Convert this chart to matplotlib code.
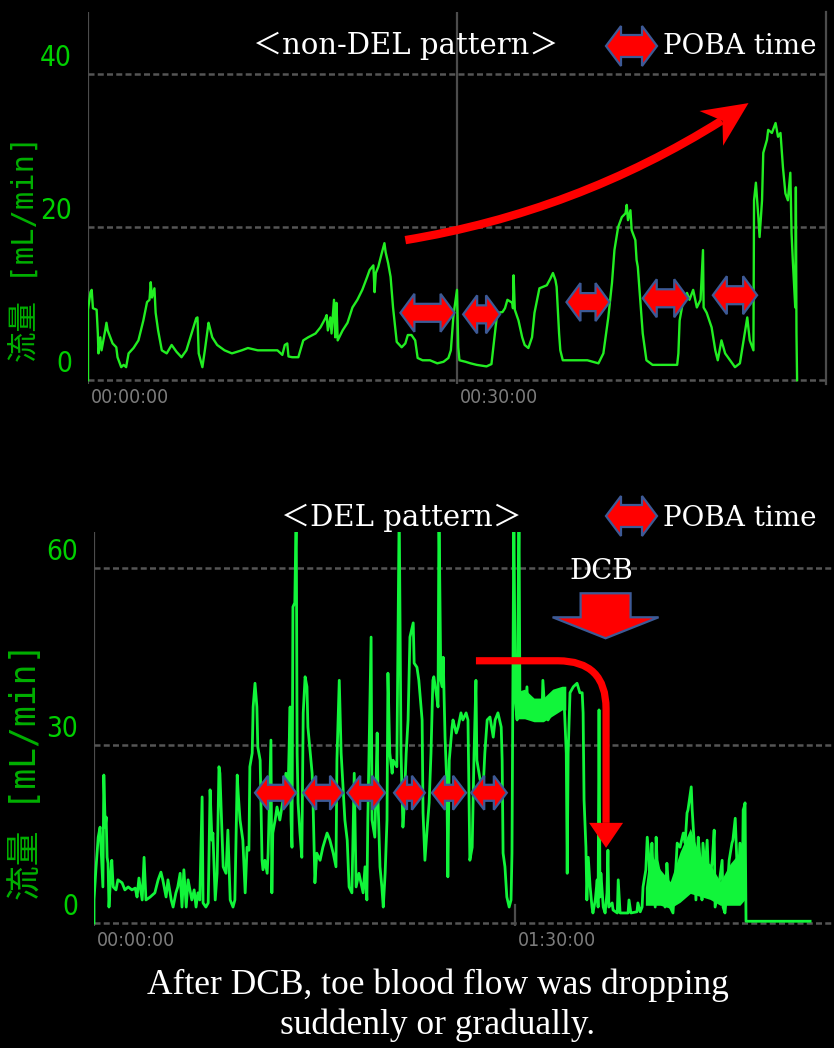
import numpy as np
import matplotlib
matplotlib.use("Agg")
import matplotlib.pyplot as plt
from matplotlib.patches import Polygon, PathPatch
from matplotlib.path import Path
from matplotlib.transforms import IdentityTransform
from matplotlib import font_manager

# ---- data (minutes, mL/min) ----
top_t = [0, 0, 0.2, 0.3, 0.4, 0.7, 0.8, 0.85, 1.0, 1.1,
         1.4, 1.5, 1.6, 2.0, 2.3, 2.4, 2.7, 2.9, 3.1, 3.3,
         3.7, 4.1, 4.5, 4.8, 5.0, 5.1, 5.2, 5.4, 5.5, 5.7,
         6.0, 6.4, 6.8, 7.2, 7.6, 8.0, 8.5, 8.8, 8.9, 9.0,
         9.3, 9.5, 9.8, 9.9, 10.1, 10.5, 11.1, 11.7, 12.5, 13.0,
         13.8, 14.6, 15.4, 15.8, 16.0, 16.2, 16.3, 16.6, 17.1, 17.5,
         17.9, 18.5, 18.9, 19.3, 19.4, 19.5, 19.7, 19.8, 20.0, 20.1,
         20.2, 20.3, 20.7, 21.1, 21.5, 21.9, 22.3, 22.7, 22.9, 23.2,
         23.3, 23.4, 23.6, 23.9, 24.1, 24.2, 24.4, 24.6, 24.8, 25.1,
         25.5, 25.8, 26.0, 26.3, 26.6, 26.8, 27.2, 27.8, 28.4, 28.9,
         29.3, 29.5, 29.7, 29.8, 30.0, 30.1, 30.2, 30.7, 31.1, 31.6,
         32.4, 32.8, 32.9, 33.2, 33.3, 33.7, 33.9, 34.1, 34.5, 34.55,
         34.6, 34.7, 35.0, 35.3, 35.5, 35.8, 36.1, 36.3, 36.7, 37.3,
         37.6, 37.8, 38.0, 38.1, 38.3, 38.4, 38.6, 39.8, 40.6, 41.5,
         41.9, 42.3, 42.6, 42.8, 43.1, 43.4, 43.7, 43.8, 43.9, 44.1,
         44.2, 44.5, 44.6, 44.7, 44.9, 45.1, 45.4, 45.9, 47.1, 47.9,
         48.0, 48.1, 48.4, 48.7, 48.9, 49.2, 49.5, 49.8, 50.0, 50.05,
         50.3, 50.7, 51.0, 51.2, 51.5, 51.8, 52.2, 52.6, 53.0, 53.3,
         53.6, 53.8, 54.1, 54.15, 54.3, 54.5, 54.6, 54.8, 54.9, 55.2,
         55.3, 55.6, 55.9, 56.1, 56.3, 56.5, 56.7, 56.9, 57.1, 57.2,
         57.3, 57.5, 57.55, 57.6, 57.65]
top_v = [0, 9.2, 11.5, 11.8, 9.4, 9.2, 6.1, 3.5, 5.6, 3.9,
         6.5, 7.5, 6.5, 4.8, 4.3, 3.0, 1.7, 2.0, 1.7, 3.5,
         4.2, 5.2, 7.8, 10.2, 10.5, 12.8, 10.8, 12.0, 8.8, 6.5,
         3.9, 3.5, 4.6, 3.7, 3.0, 3.9, 6.5, 8.1, 8.2, 3.5,
         1.7, 3.9, 7.5, 6.9, 5.6, 4.6, 3.9, 3.5, 3.9, 4.2,
         3.9, 3.9, 3.9, 3.3, 4.6, 4.8, 3.1, 3.0, 3.0, 5.2,
         5.6, 6.1, 6.9, 8.1, 8.5, 6.5, 8.2, 6.1, 10.5, 5.6,
         10.1, 5.2, 6.5, 7.5, 9.5, 10.5, 11.8, 13.5, 14.4, 15.0,
         11.5, 14.0, 14.8, 16.7, 17.9, 16.7, 15.3, 13.5, 9.5, 5.0,
         4.3, 4.8, 5.9, 5.9, 5.2, 2.9, 2.6, 2.6, 2.2, 2.4,
         2.9, 3.9, 8.2, 9.5, 11.8, 4.3, 2.6, 2.4, 2.2, 2.0,
         1.8, 2.1, 3.5, 7.8, 8.8, 8.9, 9.4, 10.5, 10.1, 9.4,
         13.7, 9.2, 7.8, 5.6, 4.6, 4.2, 5.6, 8.8, 12.0, 12.4,
         13.3, 14.0, 13.1, 12.2, 6.1, 3.9, 2.6, 2.6, 2.6, 2.2,
         3.5, 8.2, 12.7, 17.0, 20.0, 21.3, 21.8, 22.9, 20.9, 22.2,
         19.6, 18.3, 15.7, 14.8, 10.5, 6.1, 2.6, 2.0, 2.0, 2.0,
         3.5, 7.8, 10.5, 11.4, 10.5, 11.8, 9.5, 10.5, 17.0, 9.5,
         8.8, 6.9, 3.9, 2.6, 5.2, 3.5, 2.6, 1.7, 2.2, 5.2,
         8.2, 5.2, 3.9, 23.5, 25.8, 21.3, 18.7, 23.5, 29.7, 31.4,
         32.7, 32.3, 33.6, 31.8, 32.3, 27.8, 24.4, 23.5, 27.1, 19.2,
         15.7, 9.5, 25.2, 6.1, 0]

bot_t = [0.0, 0.0, 0.4, 0.9, 1.3, 1.7, 1.9, 2.1, 2.4, 2.6,
         2.8, 3.0, 3.2, 3.6, 3.8, 4.1, 4.7, 5.1, 6.0, 6.6,
         7.3, 8.1, 8.8, 9.2, 9.6, 10.3, 10.7, 11.1, 12.0, 13.0,
         13.7, 14.3, 14.7, 15.4, 15.8, 16.5, 16.9, 17.5, 17.9, 18.4,
         18.8, 19.2, 19.7, 20.1, 20.9, 21.4, 21.8, 22.2, 22.6, 23.1,
         23.3, 23.9, 24.4, 24.8, 25.2, 25.4, 25.9, 26.3, 26.7, 26.9,
         27.4, 27.6, 28.2, 28.6, 29.1, 29.7, 30.1, 30.6, 30.8, 31.2,
         31.6, 31.8, 32.3, 32.7, 33.1, 33.3, 33.8, 34.0, 34.4, 34.8,
         35.0, 35.5, 35.9, 36.1, 36.5, 37.0, 37.2, 37.8, 38.0, 38.2,
         38.7, 39.1, 39.7, 40.4, 41.0, 41.5, 41.9, 42.1, 42.3, 42.5,
         42.9, 43.2, 43.4, 43.6, 44.0, 44.4, 44.7, 45.1, 45.5, 45.7,
         46.2, 46.6, 46.8, 47.2, 47.6, 48.3, 48.9, 49.8, 50.4, 51.1,
         51.7, 51.9, 52.4, 52.8, 53.2, 53.6, 54.1, 54.5, 55.1, 55.6,
         56.0, 56.6, 57.5, 57.9, 58.3, 58.5, 59.2, 59.4, 60.0, 60.5,
         60.7, 61.1, 61.5, 61.8, 62.2, 62.6, 62.8, 63.2, 63.7, 63.9,
         64.7, 65.2, 65.6, 66.0, 66.2, 66.7, 67.1, 67.5, 68.2, 68.4,
         69.0, 69.4, 70.1, 70.3, 70.5, 70.7, 71.2, 71.6, 72.0, 72.4,
         72.6, 73.1, 73.5, 73.7, 74.1, 74.4, 74.6, 75.0, 75.4, 75.6,
         75.9, 76.5, 76.7, 77.4, 77.8, 78.4, 78.8, 79.5, 79.9, 80.3,
         80.8, 81.2, 81.6, 81.8, 82.5, 83.1, 83.5, 84.0, 84.6, 85.3,
         85.7, 86.3, 87.0, 87.2, 87.4, 87.8, 88.2, 88.7, 89.1, 89.3,
         89.5, 89.7, 90.0, 90.4, 90.8, 91.0, 91.5, 91.7, 92.1, 92.5,
         92.7, 93.6, 94.2, 94.9, 95.7, 95.9, 96.4, 97.0, 97.9, 98.5,
         98.9, 99.1, 100.0, 100.4, 100.9, 101.1, 101.3, 101.7, 102.4, 103.2,
         103.8, 104.3, 104.5, 104.7, 105.1, 105.3, 105.6, 106.0, 106.4, 106.6,
         107.1, 107.5, 107.7, 107.9, 108.1, 108.3, 108.8, 109.2, 109.6, 109.8,
         110.0, 110.7, 110.9, 111.8, 112.0, 112.4, 114.1, 114.3, 114.7, 116.0,
         116.2, 116.7, 117.1, 117.3, 117.9, 118.2, 118.6, 118.8, 119.2, 119.4,
         119.9, 120.1, 120.3, 120.7, 121.4, 122.0, 122.4, 122.6, 123.1, 123.7,
         124.4, 124.6, 125.2, 125.9, 126.3, 126.7, 126.9, 127.6, 127.8, 128.2,
         128.6, 129.1, 129.5, 129.9, 130.1, 130.6, 131.0, 131.4, 132.1, 132.5,
         132.7, 133.3, 134.2, 134.4, 134.8, 135.3, 135.7, 136.3, 136.5, 137.0,
         137.4, 137.6, 138.0, 138.5, 138.7, 138.9, 139.1, 139.3, 153.0]
bot_v = [0.0, 3.9, 9.0, 14.5, 16.2, 9.5, 6.1, 25.0, 16.2, 17.9,
         11.1, 10.1, 2.7, 8.4, 10.6, 6.1, 5.6, 7.3, 6.8, 5.6,
         6.1, 5.6, 5.9, 4.4, 7.6, 3.9, 11.1, 3.9, 4.4, 5.1,
         7.3, 8.6, 7.3, 4.4, 7.3, 3.9, 2.7, 5.1, 6.1, 8.4,
         2.7, 9.0, 2.7, 7.3, 3.9, 5.6, 2.7, 5.1, 3.9, 21.3,
         3.4, 2.7, 3.4, 22.5, 14.0, 15.2, 3.9, 8.4, 26.4, 25.3,
         14.0, 9.5, 8.4, 15.7, 3.9, 2.7, 3.9, 25.0, 22.0, 17.4,
         15.2, 14.0, 5.1, 12.8, 12.3, 26.4, 28.7, 36.5, 40.5, 36.5,
         29.7, 27.5, 10.6, 9.0, 10.6, 8.4, 11.8, 30.9, 5.1, 15.2,
         17.4, 19.6, 17.4, 20.8, 25.3, 23.6, 36.5, 17.4, 12.8, 53.4,
         54.1, 70, 28.7, 20.3, 15.2, 11.1, 35.5, 41.6, 39.9, 33.1,
         28.7, 25.3, 20.3, 6.8, 11.8, 10.6, 12.8, 15.2, 14.0, 11.8,
         9.5, 27.5, 41.0, 28.7, 23.0, 17.4, 14.0, 6.1, 5.1, 25.3,
         6.1, 8.4, 5.1, 9.5, 3.9, 17.4, 48.3, 17.4, 14.5, 32.1,
         20.3, 9.5, 6.1, 2.7, 8.4, 17.4, 42.2, 28.7, 25.3, 27.5,
         26.4, 70, 28.7, 16.2, 18.6, 28.7, 34.3, 48.3, 50.7, 43.9,
         43.2, 41.0, 34.3, 18.6, 14.5, 10.6, 16.2, 20.3, 28.7, 41.0,
         41.6, 38.9, 36.5, 70, 41.0, 39.9, 44.9, 31.4, 23.0, 7.8,
         27.5, 33.1, 34.3, 32.1, 33.1, 35.5, 34.3, 35.5, 34.3, 10.6,
         12.8, 28.7, 41.0, 27.5, 24.2, 22.0, 28.7, 34.3, 34.8, 31.4,
         34.3, 35.5, 33.1, 27.5, 11.8, 9.5, 4.4, 2.7, 3.9, 11.8,
         39.9, 70, 37.7, 34.3, 70, 36.5, 37.7, 36.5, 35.5, 39.9,
         35.5, 34.8, 35.5, 34.3, 34.8, 41.0, 34.8, 34.3, 35.5, 36.5,
         38.9, 36.0, 36.5, 38.2, 28.7, 8.4, 28.7, 38.9, 39.9, 40.5,
         38.9, 38.9, 35.5, 20.8, 12.8, 3.9, 11.1, 6.1, 2.7, 1.7,
         3.9, 7.3, 2.7, 36.0, 4.4, 8.4, 2.7, 1.7, 5.1, 12.3,
         2.7, 3.4, 2.2, 1.7, 7.3, 1.7, 1.7, 3.9, 1.7, 1.9,
         3.4, 1.9, 2.7, 6.1, 9.0, 14.5, 10.6, 6.1, 13.5, 9.5,
         2.7, 14.5, 10.6, 9.0, 6.1, 2.7, 10.1, 7.8, 2.7, 1.7,
         10.6, 13.5, 12.8, 15.2, 13.5, 18.6, 19.1, 23.0, 19.1, 14.0,
         3.9, 14.5, 10.6, 3.9, 13.5, 9.0, 14.0, 6.1, 10.6, 15.7,
         2.7, 5.1, 10.6, 2.7, 1.7, 6.1, 10.6, 13.5, 14.0, 17.7,
         9.5, 5.1, 13.5, 6.1, 19.1, 19.6, 20.3, 0.3, 0.3]

# dense (saturated) parts of the DEL trace
band_t = [117.8, 118.8, 121.0, 123.1, 125.2, 127.4, 129.5, 131.6, 133.8, 135.9, 138.0, 139.1]
band_lo = [3, 3, 3, 2.5, 3.5, 5, 4.5, 4, 3, 3, 3, 4]
band_hi = [6, 12, 9, 7, 12, 16, 11, 10, 7, 10, 12, 14]
plateau_t = [90.0, 92.0, 94.0, 96.0, 98.0, 100.0, 100.8]
plateau_lo = [34.5, 34.5, 34.0, 34.0, 35.0, 36.0, 36.0]
plateau_hi = [39.0, 39.5, 38.0, 38.0, 39.5, 40.0, 40.0]

# POBA inflations (start, end in minutes)
poba_top_start = [25.4, 30.5, 38.9, 45.1, 50.8]
poba_top_end = [29.8, 33.5, 42.4, 48.8, 54.4]
poba_bot_start = [34.4, 44.7, 54.1, 64.1, 72.2, 80.6]
poba_bot_end = [43.2, 53.2, 62.2, 70.7, 79.5, 88.2]
dcb_time = 109.3

top_yticks = [0, 20, 40]
bot_yticks = [0, 30, 60]
top_xticks = [(0, "00:00:00"), (30, "00:30:00")]
bot_xticks = [(0, "00:00:00"), (90, "01:30:00")]

# ---- styles ----
W, H = 834, 1048
red = "#ff0000"
edge_blue = "#3d5a96"
grid_gray = "#555555"
axis_gray = "#4c4c4c"
tick_green = "#00d000"
label_green = "#00b000"
time_gray = "#7c7c7c"
serif = ["DejaVu Serif", "Noto Sans CJK JP"]
ylab_font = ["DejaVu Sans Mono", "Noto Sans CJK JP"]

# monitor digits are tall and narrow: use a condensed face if there is one
names = {f.name for f in font_manager.fontManager.ttflist}
narrow_stretch = "normal"
if "Liberation Sans Narrow" in names:
    narrow = ["Liberation Sans Narrow"]
elif any(f.name == "DejaVu Sans" and f.stretch == "condensed"
         for f in font_manager.fontManager.ttflist):
    narrow = ["DejaVu Sans"]
    narrow_stretch = "condensed"
else:
    narrow = ["Liberation Sans"]

fig = plt.figure(figsize=(W / 100, H / 100), dpi=100, facecolor="black")


def fx(px):
    return px / W


def fy(py):
    return 1 - py / H


ax_top = fig.add_axes([fx(88), fy(384), 738 / W, 372 / H])
ax_bot = fig.add_axes([fx(94), fy(926), 740 / W, 394 / H])


def style(ax, xmax, ymax, yticks, xticks):
    ax.set_facecolor("black")
    ax.set_xlim(0, xmax)
    ax.set_ylim(-0.5, ymax)
    ax.set_xticks([])
    ax.set_yticks([])
    for s in ax.spines.values():
        s.set_visible(False)
    ax.axvline(0, color=axis_gray, lw=1.6, zorder=1)
    for v in yticks:
        ax.axhline(v, color=grid_gray, lw=1.8, ls=(0, (2.4, 1.3)), zorder=1)
        ax.annotate(str(v), xy=(0, v), xycoords=("axes fraction", "data"),
                    xytext=(-16, 2), textcoords="offset pixels", ha="right",
                    va="bottom", color=tick_green, fontsize=20, family=narrow,
                    fontstretch=narrow_stretch)
    for t, lab in xticks:
        ax.annotate(lab, xy=(t, 0), xycoords=("data", "axes fraction"),
                    xytext=(3, -14), textcoords="offset pixels", ha="left",
                    va="center", color=time_gray, fontsize=14, family=narrow,
                    fontstretch=narrow_stretch)


style(ax_top, 60, 48.1, top_yticks, top_xticks)
style(ax_bot, 158.1, 66.05, bot_yticks, bot_xticks)
ax_top.axvline(30, color=axis_gray, lw=1.6, zorder=1)
ax_top.axvline(60, color=axis_gray, lw=1.6, zorder=1, clip_on=False)
ax_bot.plot([90, 90], [-0.5, 3], color=axis_gray, lw=1.6, zorder=1)

ax_top.plot(top_t, top_v, color="#22ee22", lw=1.7, zorder=3)
ax_bot.fill_between(band_t, band_lo, band_hi, color="#11f53a", lw=0, zorder=3)
ax_bot.fill_between(plateau_t, plateau_lo, plateau_hi, color="#11f53a", lw=0, zorder=3)
ax_bot.plot(bot_t, bot_v, color="#11f53a", lw=2.0, zorder=3)

fig.text(fx(26), fy(249), "流量 [mL/min]", rotation=90, ha="center", va="center",
         color=label_green, fontsize=22, family=ylab_font)
fig.text(fx(26), fy(771), "流量 [mL/min]", rotation=90, ha="center", va="center",
         color=label_green, fontsize=25, family=ylab_font)


# ---- annotations drawn in pixel space ----
def px(ax, t, v):
    return ax.transData.transform((t, v))


def double_arrow(x0, x1, yc, head, shaft, hl):
    pts = [(x0, yc), (x0 + hl, yc + head), (x0 + hl, yc + shaft), (x1 - hl, yc + shaft),
           (x1 - hl, yc + head), (x1, yc), (x1 - hl, yc - head), (x1 - hl, yc - shaft),
           (x0 + hl, yc - shaft), (x0 + hl, yc - head)]
    fig.add_artist(Polygon(pts, closed=True, transform=IdentityTransform(),
                           facecolor=red, edgecolor=edge_blue, lw=1.6, zorder=6))


for t0, t1, v in zip(poba_top_start, poba_top_end, [8.8, 8.6, 10.2, 10.7, 11.1]):
    (x0, y), (x1, _) = px(ax_top, t0, v), px(ax_top, t1, v)
    double_arrow(x0, x1, y, 19, 9, 14)
for t0, t1 in zip(poba_bot_start, poba_bot_end):
    (x0, y), (x1, _) = px(ax_bot, t0, 22.0), px(ax_bot, t1, 22.0)
    double_arrow(x0, x1, y, 17, 8, 13)

# legend icons
double_arrow(606, 657, H - 46, 20, 11, 15)
double_arrow(606, 657, H - 516, 20, 11, 15)

# curved "increase" arrow
p0 = px(ax_top, 25.8, 18.3)
p2 = px(ax_top, 53.7, 36.2)
d = p2 - p0
ctrl = (p0 + p2) / 2 + 0.11 * np.array([d[1], -d[0]])
u = (p2 - ctrl) / np.hypot(*(p2 - ctrl))
n = np.array([-u[1], u[0]])
hl, hw = 45, 21
s = 1 - 0.7 * hl / np.hypot(*d)
c1 = p0 + s * (ctrl - p0)
e1 = (1 - s) ** 2 * p0 + 2 * s * (1 - s) * ctrl + s ** 2 * p2
fig.add_artist(PathPatch(Path([p0, c1, e1], [Path.MOVETO, Path.CURVE3, Path.CURVE3]),
                         transform=IdentityTransform(), fill=False, edgecolor=red,
                         lw=6, capstyle="butt", zorder=6))
fig.add_artist(Polygon([p2, p2 - hl * u + hw * n, p2 - 0.7 * hl * u, p2 - hl * u - hw * n],
                       closed=True, transform=IdentityTransform(), facecolor=red,
                       edgecolor="none", zorder=6))

# elbow "drop" arrow
a = px(ax_bot, 81.6, 44.3)
tip = px(ax_bot, dcb_time + 0.1, 12.7)
r = 48
base = (tip[0], tip[1] + 25)
elbow = Path([a, (tip[0] - r, a[1]), (tip[0], a[1]), (tip[0], a[1] - r), base],
             [Path.MOVETO, Path.LINETO, Path.CURVE3, Path.CURVE3, Path.LINETO])
fig.add_artist(PathPatch(elbow, transform=IdentityTransform(), fill=False, edgecolor=red,
                         lw=5.2, capstyle="butt", zorder=6))
fig.add_artist(Polygon([tip, (tip[0] - 17, base[1]), (tip[0] + 17, base[1])], closed=True,
                       transform=IdentityTransform(), facecolor=red, edgecolor="none", zorder=6))

# DCB block arrow
cx, top_y = px(ax_bot, dcb_time, 55.7)
fig.add_artist(Polygon([(cx - 25, top_y), (cx + 25, top_y), (cx + 25, top_y - 24),
                        (cx + 53, top_y - 24), (cx, top_y - 45), (cx - 53, top_y - 24),
                        (cx - 25, top_y - 24)], closed=True, transform=IdentityTransform(),
                       facecolor=red, edgecolor=edge_blue, lw=1.6, zorder=6))
ax_bot.text(dcb_time - 0.8, 59.3, "DCB", ha="center", va="center", color="white",
            fontsize=20, family=serif, zorder=7)

# ---- titles and caption ----
fig.text(fx(406), fy(46), "＜non-DEL pattern＞", ha="center", va="center",
         color="white", fontsize=21, family=serif)
fig.text(fx(663), fy(46), "POBA time", ha="left", va="center", color="white",
         fontsize=20, family=serif)
fig.text(fx(401), fy(518), "＜DEL pattern＞", ha="center", va="center",
         color="white", fontsize=21, family=serif)
fig.text(fx(663), fy(518), "POBA time", ha="left", va="center", color="white",
         fontsize=20, family=serif)
fig.text(fx(438), fy(985), "After DCB, toe blood flow was dropping", ha="center",
         va="center", color="white", fontsize=25.5, family="Liberation Serif")
fig.text(fx(438), fy(1025), "suddenly or gradually.", ha="center", va="center",
         color="white", fontsize=25.5, family="Liberation Serif")

fig.savefig("out.png", dpi=100, facecolor="black")
